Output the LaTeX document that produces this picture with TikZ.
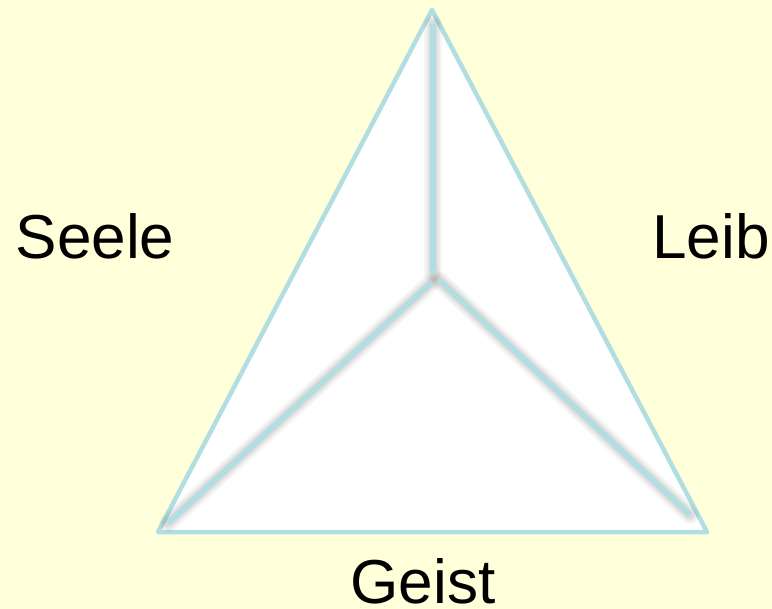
\documentclass[tikz,border=0pt]{standalone}
\usepackage{fontspec}
\setmainfont{Liberation Sans}
\usepackage{xcolor}
\usepackage{tikz}
\usetikzlibrary{positioning}

\definecolor{paper}{HTML}{FFFFD9}
\definecolor{edgeblue}{HTML}{B2DEE2}

\begin{document}
\begin{tikzpicture}[
			x=0.03cm, y=-0.03cm,
			every node/.style={align=center},
			outline/.style={draw=edgeblue, line width=4.5*0.03cm, line join=round, fill=white},
			spoke/.style={draw=edgeblue, line width=5.5*0.03cm},
			shade/.style={draw=black, opacity=0.035, line cap=round},
			word/.style={font=\fontsize{53}{60}\selectfont, inner sep=0pt, anchor=base},
			]
			
			\fill[paper] (0,0) rectangle (772,609);
			\useasboundingbox (0,0) rectangle (772,609);
			
			\coordinate (apex) at (432,10);
			\coordinate (left) at (158,532);
			\coordinate (right) at (707,532);
			
			\coordinate (top end) at (433,24);
			\coordinate (top mid) at (433,274);
			\coordinate (left mid) at (431,283);
			\coordinate (left end) at (168,523);
			\coordinate (right mid) at (439,280);
			\coordinate (right end) at (690,515);
			
			\draw[outline] (apex) -- (left) -- (right) -- cycle;
			
			% soft shadows under the spokes
			\foreach \w in {18,14,11,8} {
				\foreach \a/\b in {top end/top mid, left mid/left end, right mid/right end}
					\draw[shade, line width=\w*0.03cm, shift={(0,4)}] (\a) -- (\b);
			}
			
			\draw[spoke] (top end) -- (top mid);
			\draw[spoke] (left mid) -- (left end);
			\draw[spoke] (right mid) -- (right end);
			
			\node[word] (seele) at (95,258) {Seele};
			\node[word] (leib) at (711,258) {Leib};
			\node[word] (geist) at (423,603) {Geist};
			
		\end{tikzpicture}
\end{document}
